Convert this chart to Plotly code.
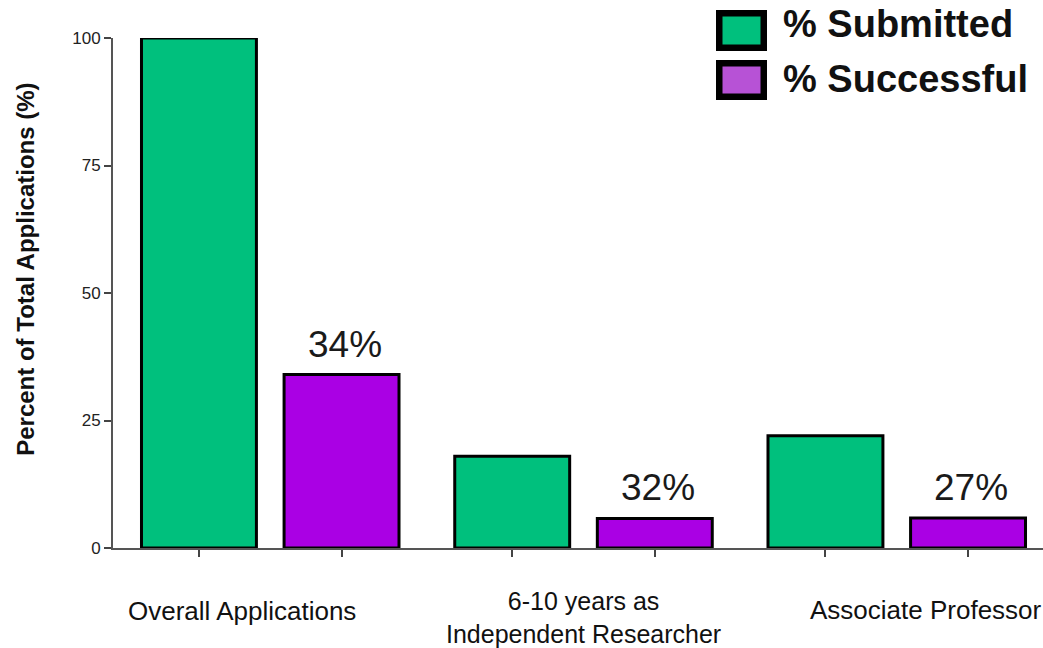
import plotly.graph_objects as go

# ---- data ----
categories = ["Overall Applications", "6-10 years as<br>Independent Researcher", "Associate Professor"]
series_names = ["% Submitted", "% Successful"]
submitted = [100, 18, 22]
successful = [34, 5.8, 5.9]
success_rate_labels = ["34%", "32%", "27%"]
y_tick_values = [0, 25, 50, 75, 100]
y_title = "Percent of Total Applications (%)"

# ---- style ----
GREEN = "rgb(0,192,125)"
PURPLE = "rgb(170,0,228)"
LEG_PURPLE = "rgb(183,82,214)"
FONT = "Arial, 'Liberation Sans', sans-serif"
W, H = 1043, 648
L, T, B = 113, 38, 99.5
BARGAP = 0.0896
OFF = (1 - BARGAP) / 4

plot_w = W - L
plot_h = H - T - B


def px_x(px):
    return (px - L) / plot_w


def px_y(py):
    return (H - B - py) / plot_h


xs = list(range(len(categories)))

fig = go.Figure()
fig.add_trace(go.Bar(x=xs, y=submitted, name=series_names[0], marker=dict(color=GREEN, line=dict(color="black", width=3)), showlegend=False))
fig.add_trace(go.Bar(x=xs, y=successful, name=series_names[1], marker=dict(color=PURPLE, line=dict(color="black", width=3)), showlegend=False))

tickvals = []
for g in xs:
    tickvals += [g - OFF, g + OFF]

annotations = []
# success-rate labels above purple bars
for g, v, lab in zip(xs, successful, success_rate_labels):
    annotations.append(dict(x=g + OFF, y=v, xref="x", yref="y", text=lab, showarrow=False,
                            yanchor="bottom", yshift=8, xshift=3,
                            font=dict(family=FONT, size=37, color="#1a1a1a")))

# category labels: (xanchor, xshift, center pixel y, font size)
cat_layout = [
    ("center", -28, 612, 26),
    ("center", 0, 618, 25),
    ("left", 808 - 897.25, 611, 26),
]
for g, cat, (xa, xsh, py, fs) in zip(xs, categories, cat_layout):
    annotations.append(dict(x=g, xref="x", y=px_y(py), yref="paper", text=cat, showarrow=False,
                            xanchor=xa, xshift=xsh, yanchor="middle", align="center",
                            font=dict(family=FONT, size=fs, color="#111")))

# y-axis title
annotations.append(dict(x=px_x(26), y=px_y(270), xref="paper", yref="paper", text="<b>" + y_title + "</b>",
                        textangle=-90, showarrow=False, xanchor="center", yanchor="middle",
                        font=dict(family=FONT, size=24, color="#111")))

# manual legend
shapes = []
leg_items = [(series_names[0], GREEN, 10, 51, 24), (series_names[1], LEG_PURPLE, 60, 100, 79)]
for name, col, top, bot, ty in leg_items:
    lw = 6.5
    shapes.append(dict(type="rect", xref="paper", yref="paper",
                       x0=px_x(716 + lw / 2), x1=px_x(767 - lw / 2),
                       y0=px_y(bot - lw / 2), y1=px_y(top + lw / 2),
                       fillcolor=col, line=dict(color="black", width=lw)))
    annotations.append(dict(x=px_x(781), y=px_y(ty), xref="paper", yref="paper", text="<b>" + name + "</b>",
                            showarrow=False, xanchor="left", yanchor="middle",
                            font=dict(family=FONT, size=38, color="#111")))

fig.update_layout(
    width=W, height=H, autosize=False,
    margin=dict(l=L, r=0, t=T, b=B, pad=0),
    paper_bgcolor="white", plot_bgcolor="white",
    barmode="group", bargap=BARGAP, bargroupgap=0.194,
    showlegend=False,
    xaxis=dict(range=[(L - 270.25) / 313.25, (W - 270.25) / 313.25], showgrid=False, zeroline=False,
               showline=True, linecolor="#555", linewidth=2,
               tickmode="array", tickvals=tickvals, ticktext=[""] * len(tickvals),
               ticks="outside", ticklen=7, tickwidth=2, tickcolor="#444"),
    yaxis=dict(range=[0, 100], showgrid=False, zeroline=False,
               showline=True, linecolor="#555", linewidth=2,
               tickmode="array", tickvals=y_tick_values,
               ticks="outside", ticklen=7, tickwidth=2, tickcolor="#444",
               tickfont=dict(family=FONT, size=17, color="#222")),
    annotations=annotations,
    shapes=shapes,
)

fig.write_html("out.html", config={"displayModeBar": False},
               post_script="document.body.style.margin='0px';document.body.style.overflow='hidden';")
